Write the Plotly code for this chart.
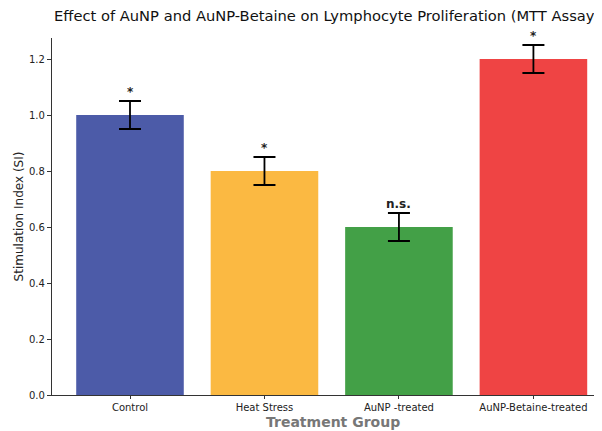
import plotly.graph_objects as go

categories = ["Control", "Heat Stress", "AuNP -treated", "AuNP-Betaine-treated"]
values = [1.0, 0.8, 0.6, 1.2]
errors = [0.05, 0.05, 0.05, 0.05]
labels = ["*", "*", "n.s.", "*"]
colors = ["#4C5BA8", "#FBB942", "#43A047", "#EF4444"]

x = list(range(len(categories)))
fig = go.Figure()
fig.add_trace(go.Bar(
    x=x, y=values, width=0.8, marker=dict(color=colors, line=dict(width=0)),
    error_y=dict(type="data", array=errors, visible=True, color="black", thickness=1.8, width=11),
))
for xi, v, e, lab in zip(x, values, errors, labels):
    fig.add_annotation(x=xi, y=v + e, text="<b>%s</b>" % lab, showarrow=False,
                       yanchor="bottom", yshift=0, font=dict(size=12, color="#222"))

fig.add_annotation(xref="paper", yref="paper", x=0.0, y=1.0, xanchor="left", yanchor="bottom",
                   yshift=12, xshift=0, showarrow=False,
                   text="Effect of AuNP and AuNP-Betaine on Lymphocyte Proliferation (MTT Assay)",
                   font=dict(size=14.7, color="#111", family="DejaVu Sans"))
fig.add_annotation(xref="paper", yref="paper", x=0.51, y=0, xanchor="center", yanchor="top",
                   yshift=-17, showarrow=False, text="<b>Treatment Group</b>",
                   font=dict(size=14, color="#777"))

fig.update_layout(
    width=602, height=431, margin=dict(l=44, r=8, t=30, b=44, autoexpand=False),
    plot_bgcolor="white", paper_bgcolor="white", showlegend=False,
    font=dict(family="DejaVu Sans", color="#222", size=11),
    bargap=0.2,
)
fig.update_xaxes(range=[-0.58, 3.51], tickvals=x, ticktext=categories, showline=True,
                 linecolor="#333", linewidth=1.2, ticks="outside", ticklen=3, tickcolor="#333",
                 tickfont=dict(size=10), showgrid=False, zeroline=False, automargin=False)
fig.update_yaxes(range=[0, 1.275], tickvals=[0, 0.2, 0.4, 0.6, 0.8, 1.0, 1.2],
                 ticktext=["0.0", "0.2", "0.4", "0.6", "0.8", "1.0", "1.2"], showline=True,
                 linecolor="#333", linewidth=1.2, ticks="outside", ticklen=4, tickcolor="#333",
                 tickfont=dict(size=10), showgrid=False, zeroline=False, automargin=False,
                 title=dict(text="Stimulation Index (SI)", font=dict(size=12), standoff=2))
fig.write_html("out.html")
